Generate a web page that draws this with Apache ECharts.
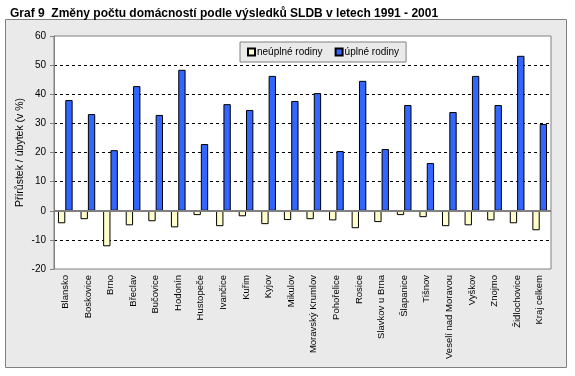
<!DOCTYPE html>
<html>
<head>
<meta charset="utf-8">
<script src="https://cdn.jsdelivr.net/npm/echarts@6/dist/echarts.min.js"></script>
<style>
  html, body { margin: 0; padding: 0; background: #fff; }
  #chart { width: 575px; height: 376px; }
</style>
</head>
<body>
<div id="chart"></div>
<script>
  // okresy + kraj
  var categories = ['Blansko', 'Boskovice', 'Brno', 'Břeclav', 'Bučovice', 'Hodonín', 'Hustopeče',
    'Ivančice', 'Kuřim', 'Kyjov', 'Mikulov', 'Moravský Krumlov', 'Pohořelice', 'Rosice',
    'Slavkov u Brna', 'Šlapanice', 'Tišnov', 'Veselí nad Moravou', 'Vyškov', 'Znojmo',
    'Židlochovice', 'Kraj celkem'];
  var neuplne = [-4.3, -2.9, -12.2, -5.0, -3.6, -5.7, -1.5, -5.3, -1.9, -4.6, -3.2, -2.9,
    -3.3, -6.0, -3.9, -1.5, -2.2, -5.3, -5.0, -3.3, -4.3, -6.7];
  var uplne = [38.0, 33.2, 20.8, 42.8, 32.9, 48.4, 22.9, 36.6, 34.6, 46.3, 37.7, 40.4,
    20.5, 44.6, 21.2, 36.3, 16.4, 33.9, 46.3, 36.3, 53.2, 29.8];
  var yMin = -20, yMax = 60, yStep = 10;

  var font = '"Liberation Sans", Arial, sans-serif';
  var chart = echarts.init(document.getElementById('chart'));
  var option = {
    animation: false,
    textStyle: { fontFamily: font },
    title: {
      text: 'Graf 9  Změny počtu domácností podle výsledků SLDB v letech 1991 - 2001',
      left: 5,
      top: 3,
      textStyle: { fontFamily: font, fontSize: 12, fontWeight: 'bold', color: '#000' }
    },
    graphic: [{
      type: 'rect',
      z: -10,
      shape: { x: 5.5, y: 19.5, width: 561, height: 348 },
      style: { fill: '#eaeaea', stroke: '#808080', lineWidth: 1 }
    }],
    legend: {
      left: 240,
      top: 42,
      orient: 'horizontal',
      padding: [5, 7, 5, 7],
      itemGap: 12,
      itemWidth: 7,
      itemHeight: 7,
      icon: 'rect',
      backgroundColor: '#eaeaea',
      borderColor: '#808080',
      borderWidth: 1,
      borderRadius: 0,
      textStyle: { fontFamily: font, fontSize: 10, color: '#000', padding: [0, 0, 0, -3] },
      data: ['neúplné rodiny', 'úplné rodiny']
    },
    grid: {
      left: 54,
      top: 36,
      right: 24,
      bottom: 107,
      show: true,
      backgroundColor: '#fff',
      borderColor: '#808080',
      borderWidth: 1
    },
    xAxis: {
      type: 'category',
      data: categories,
      axisLine: { onZero: false, show: false },
      axisTick: { show: false },
      axisLabel: {
        rotate: 90,
        interval: 0,
        margin: 6,
        fontFamily: font,
        fontSize: 9.5,
        color: '#000'
      }
    },
    yAxis: {
      type: 'value',
      min: yMin,
      max: yMax,
      interval: yStep,
      name: 'Přírůstek / úbytek (v %)',
      nameLocation: 'middle',
      nameRotate: 90,
      nameGap: 28,
      nameMoveOverlap: false,
      nameTextStyle: { fontFamily: font, fontSize: 10.5, color: '#000' },
      axisLine: { show: true, lineStyle: { color: '#808080' } },
      axisTick: { show: true, length: 4, lineStyle: { color: '#808080' } },
      axisLabel: { fontFamily: font, fontSize: 10, color: '#000', margin: 8 },
      splitLine: {
        show: true,
        showMinLine: false,
        showMaxLine: false,
        lineStyle: { color: '#000', type: [3, 3], width: 1 }
      }
    },
    series: [
      {
        name: 'neúplné rodiny',
        type: 'bar',
        data: neuplne,
        barGap: 0,
        barCategoryGap: '35%',
        itemStyle: { color: '#ffffcc', borderColor: '#000', borderWidth: 1 },
        markLine: {
          silent: true,
          symbol: 'none',
          label: { show: false },
          lineStyle: { color: '#808080', type: 'solid', width: 2 },
          data: [{ yAxis: 0 }]
        }
      },
      {
        name: 'úplné rodiny',
        type: 'bar',
        data: uplne,
        barGap: 0,
        barCategoryGap: '35%',
        itemStyle: { color: '#3366ff', borderColor: '#000', borderWidth: 1 }
      }
    ]
  };
  chart.setOption(option);
</script>
</body>
</html>
